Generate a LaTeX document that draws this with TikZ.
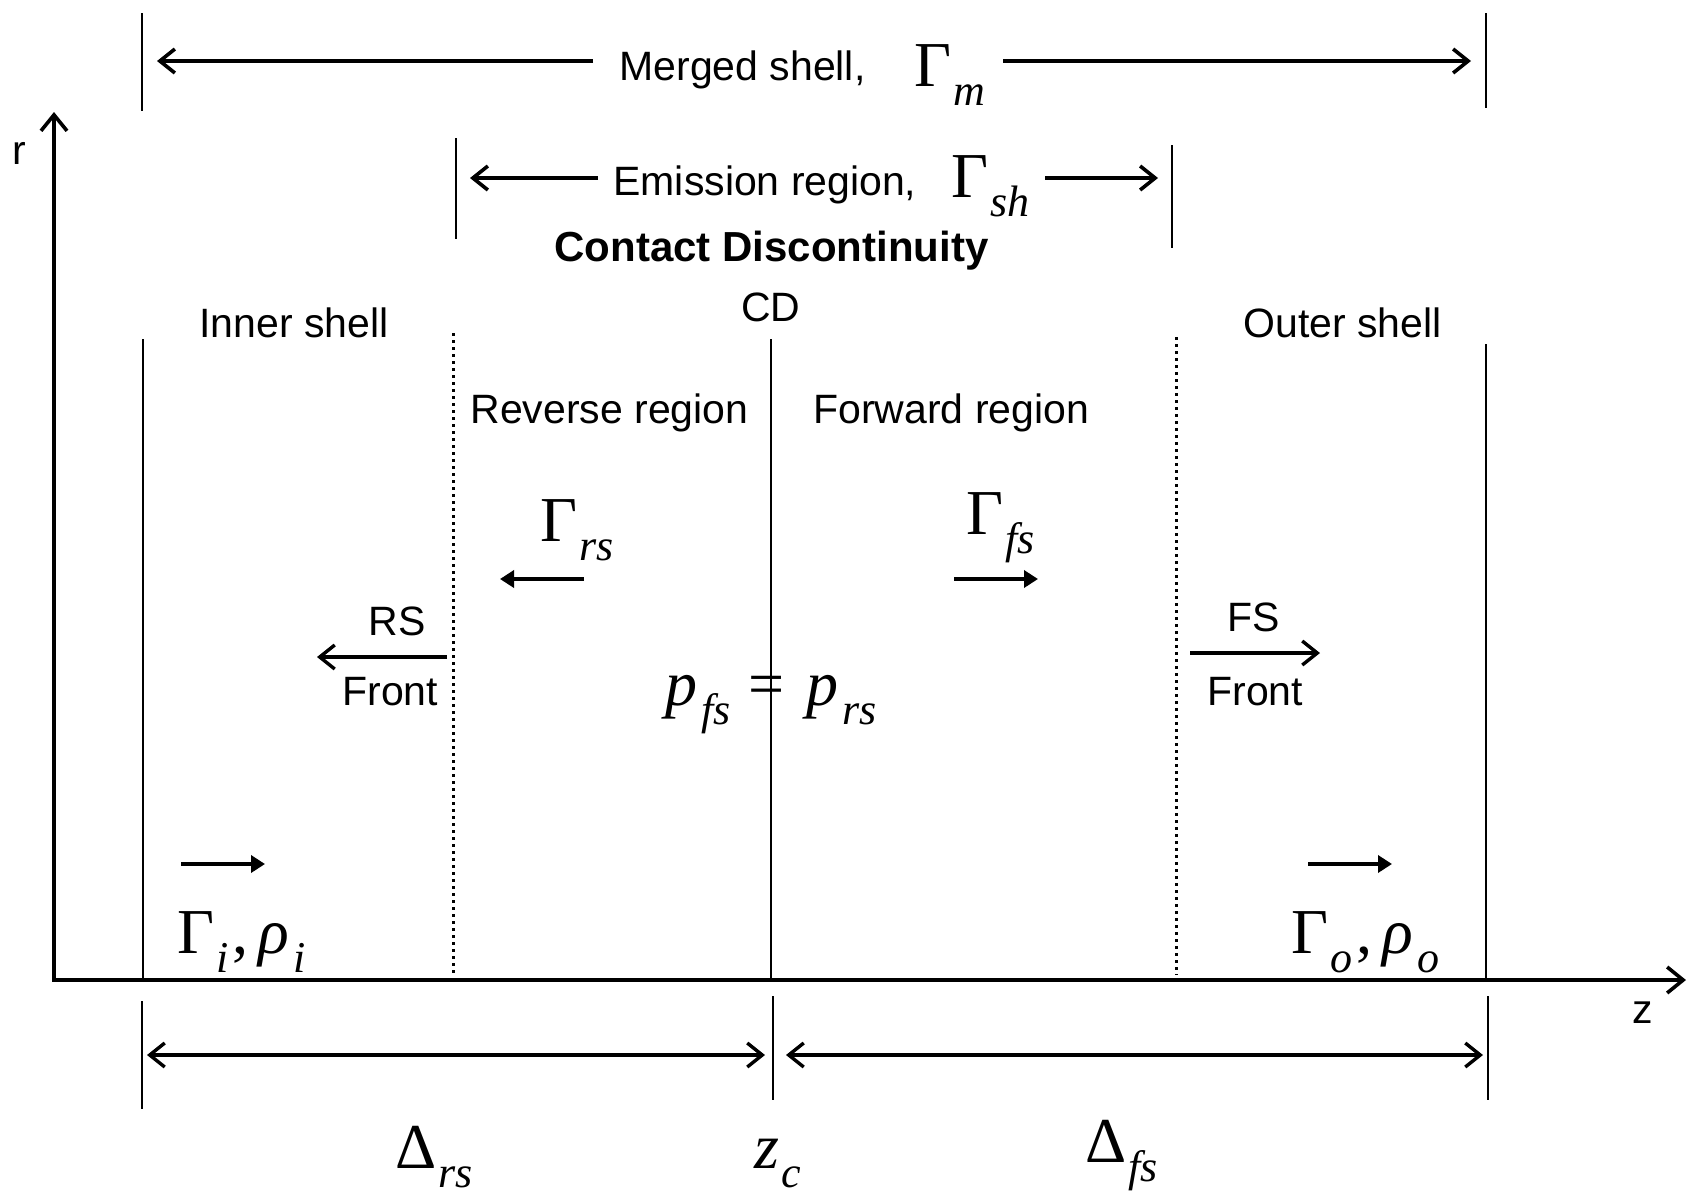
\documentclass[tikz,border=0pt]{standalone}
\usepackage{fontspec}
\setmainfont{Liberation Sans}
\newfontfamily\tms{Liberation Serif}
\usetikzlibrary{arrows.meta}
\newcommand\txtsz{\fontsize{20.5}{24}\selectfont}
\newcommand\mbig{\tms\fontsize{32}{38}\selectfont}
\newcommand\msub{\tms\itshape\fontsize{22}{26}\selectfont}
\newcommand\gsub[2]{{\mbig #1}\hspace{1pt}\raisebox{-9.5pt}{\msub #2}}
\begin{document}
\begin{tikzpicture}[x=0.5pt,y=-0.5pt,
  lbl/.style={inner sep=0pt,font=\txtsz,anchor=base west},
  mlbl/.style={inner sep=0pt,anchor=base west},
  wall/.style={line width=1.4pt},
  dotwall/.style={line width=1.5pt,dash pattern=on 1.5pt off 2pt},
  axis/.style={line width=2pt,-{Straight Barb[length=8pt,width=13pt,line width=1.8pt]}},
  span/.style={line width=2pt,-{Straight Barb[length=7.5pt,width=12pt,line width=1.8pt]}},
  dspan/.style={line width=1.8pt,{Straight Barb[length=7.5pt,width=12pt,line width=1.7pt]}-{Straight Barb[length=7.5pt,width=12pt,line width=1.7pt]}},
  tick/.style={line width=1.4pt},
  mv/.style={line width=2.4pt,-{Triangle[length=7pt,width=8.5pt]}},
  front/.style={line width=1.8pt,-{Straight Barb[length=7.5pt,width=12pt,line width=1.7pt]}}]
\useasboundingbox[fill=white] (0,0) rectangle (1688,1200);

% axes
\coordinate (O) at (54,980);
\coordinate (rtop) at (54,112);
\coordinate (zend) at (1686,980);
\draw[axis] (O) -- (rtop);
\draw[axis] ([xshift=-1pt]O) -- (zend);
\node[lbl] (rlab) at (12,164) {r};
\node[lbl] (zlab) at (1632,1023) {z};

% walls
\coordinate (w1t) at (143,339); \coordinate (w1b) at (143,980);
\coordinate (d1t) at (453,333); \coordinate (d1b) at (453,975);
\coordinate (cdt) at (771,339); \coordinate (cdb) at (771,980);
\coordinate (d2t) at (1176,337); \coordinate (d2b) at (1176,975);
\coordinate (w2t) at (1486,344); \coordinate (w2b) at (1486,980);
\draw[wall] (w1t) -- (w1b);
\draw[wall] (cdt) -- (cdb);
\draw[wall] (w2t) -- (w2b);
\draw[dotwall] (d1t) -- (d1b);
\draw[dotwall] (d2t) -- (d2b);

% merged shell
\coordinate (m1t) at (142,13); \coordinate (m1b) at (142,111);
\coordinate (m2t) at (1486,13); \coordinate (m2b) at (1486,108);
\draw[tick] (m1t) -- (m1b);
\draw[tick] (m2t) -- (m2b);
\node[lbl] (merged) at (619,80) {Merged shell,};
\node[mlbl] (gm) at (914,86) {\gsub{Γ}{m}};
\coordinate (ma) at (593,61); \coordinate (mat) at (157,61);
\coordinate (mb) at (1003,61); \coordinate (mbt) at (1471,61);
\draw[span] (ma) -- (mat);
\draw[span] (mb) -- (mbt);

% emission region
\coordinate (e1t) at (456,138); \coordinate (e1b) at (456,239);
\coordinate (e2t) at (1172,145); \coordinate (e2b) at (1172,248);
\draw[tick] (e1t) -- (e1b);
\draw[tick] (e2t) -- (e2b);
\node[lbl] (emis) at (613,195) {Emission region,};
\node[mlbl] (gsh) at (951,197) {\gsub{Γ}{sh}};
\coordinate (ea) at (598,178); \coordinate (eat) at (470,178);
\coordinate (eb) at (1045,178); \coordinate (ebt) at (1158,178);
\draw[span] (ea) -- (eat);
\draw[span] (eb) -- (ebt);

\node[lbl,font=\fontsize{21}{25}\selectfont\bfseries] (cdtitle) at (554,261) {Contact Discontinuity};
\node[lbl,anchor=base] (cd) at (771,321) {CD};
\node[lbl] (inner) at (199,337) {Inner shell};
\node[lbl] (outer) at (1243,337) {Outer shell};
\node[lbl] (rev) at (470,423) {Reverse region};
\node[lbl] (fwd) at (813,423) {Forward region};

% gammas of shocked regions
\node[mlbl] (grs) at (540,541) {\gsub{Γ}{rs}};
\node[mlbl] (gfs) at (966,534) {\gsub{Γ}{fs}};
\coordinate (rsa) at (584,579); \coordinate (rsat) at (500,579);
\coordinate (fsa) at (954,579); \coordinate (fsat) at (1038,579);
\draw[mv] (rsa) -- (rsat);
\draw[mv] (fsa) -- (fsat);

% fronts
\node[lbl] (rs) at (368,635) {RS};
\node[lbl] (rsfront) at (342,705) {Front};
\coordinate (rfa) at (447,657); \coordinate (rfat) at (317,657);
\draw[front] (rfa) -- (rfat);
\node[lbl] (fs) at (1227,631) {FS};
\node[lbl] (fsfront) at (1207,705) {Front};
\coordinate (ffa) at (1190,653); \coordinate (ffat) at (1320,653);
\draw[front] (ffa) -- (ffat);

% pressure balance
\node[mlbl] (press) at (665,705) {{\mbig\itshape p}\hspace{2pt}\raisebox{-9.5pt}{\msub fs}\hspace{9pt}{\mbig =}\hspace{11pt}{\mbig\itshape p}\hspace{2pt}\raisebox{-9.5pt}{\msub rs}};

% inner / outer shells
\coordinate (ia) at (181,864); \coordinate (iat) at (265,864);
\coordinate (oa) at (1308,864); \coordinate (oat) at (1392,864);
\draw[mv] (ia) -- (iat);
\draw[mv] (oa) -- (oat);
\node[mlbl] (gi) at (177,953) {\gsub{Γ}{i}\hspace{2pt}{\mbig ,\hspace{5pt}\itshape ρ}\hspace{2pt}\raisebox{-9.5pt}{\msub i}};
\node[mlbl] (go) at (1291,953) {\gsub{Γ}{o}\hspace{2pt}{\mbig ,\hspace{5pt}\itshape ρ}\hspace{2pt}\raisebox{-9.5pt}{\msub o}};

% bottom widths
\coordinate (b1t) at (142,1001); \coordinate (b1b) at (142,1109);
\coordinate (b2t) at (773,996); \coordinate (b2b) at (773,1100);
\coordinate (b3t) at (1488,996); \coordinate (b3b) at (1488,1100);
\draw[tick] (b1t) -- (b1b);
\draw[tick] (b2t) -- (b2b);
\draw[tick] (b3t) -- (b3b);
\coordinate (da1) at (147,1055); \coordinate (da2) at (765,1055);
\coordinate (db1) at (786,1055); \coordinate (db2) at (1483,1055);
\draw[dspan] (da1) -- (da2);
\draw[dspan] (db1) -- (db2);
\node[mlbl] (drs) at (395,1168) {\gsub{Δ}{rs}};
\node[mlbl] (zc) at (754,1168) {{\mbig\itshape z}\hspace{1pt}\raisebox{-9.5pt}{\msub c}};
\node[mlbl] (dfs) at (1085,1162) {\gsub{Δ}{fs}};
\end{tikzpicture}
\end{document}
